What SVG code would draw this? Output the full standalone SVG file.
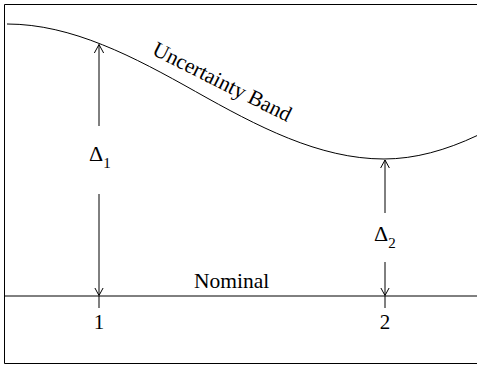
<svg xmlns="http://www.w3.org/2000/svg" width="477" height="366" viewBox="0 0 477 366">
<style>
.ln{fill:none;stroke:#000;stroke-width:1}
.t{font-family:'Liberation Serif','Times New Roman',serif;fill:#000}
</style>
<defs>
<marker id="ah" markerUnits="userSpaceOnUse" markerWidth="16" markerHeight="16" viewBox="-8 -8 16 16" refX="0" refY="0" orient="auto">
<path d="M-11,-6 L0,0 L-11,6" fill="none" stroke="#000" stroke-width="1"/>
</marker>
</defs>
<rect width="477" height="366" fill="#fff"/>
<g id="frame">
<path class="ln" d="M480,4.5 H4.5 V363.5 H480"/>
</g>
<g id="band">
<path class="ln" d="M7,24 C71.9,24 134.2,57 195.5,91.5 C256.8,126 319.1,159 384,159 C415,159 446,150.2 477,135.6"/>
<text class="t" font-size="21.5" transform="translate(151,54) rotate(26.6)">Uncertainty Band</text>
</g>
<g id="nominal">
<path class="ln" d="M4,296 H477"/>
<text class="t" font-size="21.5" x="194" y="288">Nominal</text>
</g>
<g id="connectors">
<path class="ln" d="M99,126 V44.5" marker-end="url(#ah)"/>
<path class="ln" d="M99,194 V295.5" marker-end="url(#ah)"/>
<path class="ln" d="M99,296 V308"/>
<path class="ln" d="M385,213 V160" marker-end="url(#ah)"/>
<path class="ln" d="M385,262 V295.5" marker-end="url(#ah)"/>
<path class="ln" d="M385,296 V308"/>
</g>
<g id="label1">
<text class="t" x="89" y="161" font-size="22">Δ<tspan font-size="15" dy="7">1</tspan></text>
<text class="t" x="99" y="329" font-size="21" text-anchor="middle">1</text>
</g>
<g id="label2">
<text class="t" x="374" y="241" font-size="22">Δ<tspan font-size="15" dy="7">2</tspan></text>
<text class="t" x="385" y="329" font-size="21" text-anchor="middle">2</text>
</g>
</svg>
